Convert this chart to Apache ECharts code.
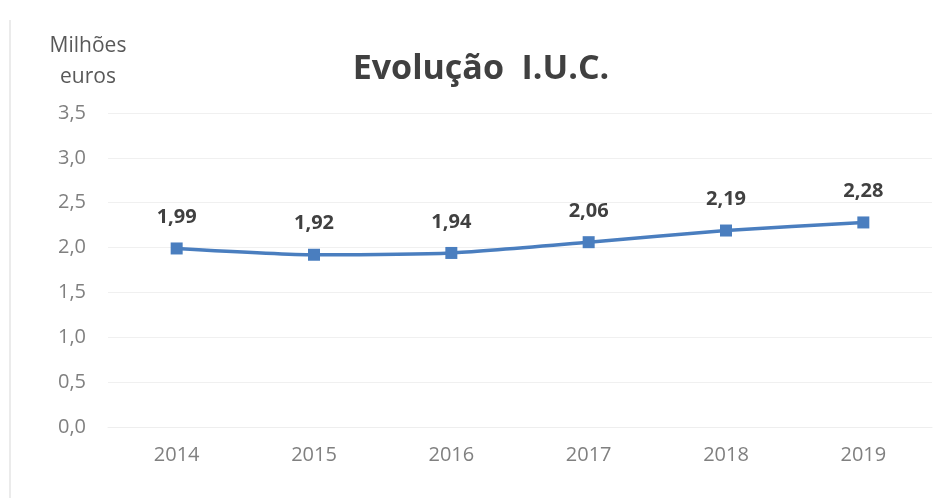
<!DOCTYPE html>
<html>
<head>
<meta charset="utf-8">
<script src="https://cdn.jsdelivr.net/npm/echarts@6/dist/echarts.min.js"></script>
<style>
html,body{margin:0;padding:0;background:#fff;}
#chart{width:934px;height:498px;}
</style>
</head>
<body>
<div id="chart"></div>
<script>
var categories = ['2014', '2015', '2016', '2017', '2018', '2019'];
var values = [1.99, 1.92, 1.94, 2.06, 2.19, 2.28];
var yTicks = { min: 0, max: 3.5, interval: 0.5 };
var titleText = 'Evolução  I.U.C.';
var unitText = 'Milhões\neuros';

function comma(v, d) { return v.toFixed(d).replace('.', ','); }

var chart = echarts.init(document.getElementById('chart'));
chart.setOption({
  backgroundColor: '#ffffff',
  animation: false,
  title: {
    text: titleText,
    left: 476, top: 47, textAlign: 'center',
    textStyle: { fontFamily: 'Open Sans', fontWeight: 'bold', fontSize: 34, color: '#404040' }
  },
  graphic: [
    { type: 'line', shape: { x1: 10, y1: 20, x2: 10, y2: 498 }, style: { stroke: '#e4e4e4', lineWidth: 1.5 } },
    { type: 'text', x: 88, y: 31, style: { text: unitText, fontFamily: 'Open Sans', fontSize: 21, fill: '#595959', align: 'center', lineHeight: 31 } }
  ],
  grid: { left: 108, right: 2, top: 113, bottom: 71 },
  xAxis: {
    type: 'category', data: categories, boundaryGap: true,
    axisLine: { show: true, lineStyle: { color: '#eeeeee' } },
    axisTick: { show: false },
    axisLabel: { color: '#808080', fontSize: 20, fontFamily: 'Open Sans', margin: 18 }
  },
  yAxis: {
    type: 'value', min: yTicks.min, max: yTicks.max, interval: yTicks.interval,
    axisLine: { show: false }, axisTick: { show: false },
    splitLine: { lineStyle: { color: '#f0f0f0' } },
    axisLabel: { color: '#808080', fontSize: 20, fontFamily: 'Open Sans', margin: 22, formatter: function (v) { return comma(v, 1); } }
  },
  series: [{
    type: 'line', data: values, smooth: 0.2,
    symbol: 'rect', symbolSize: 12,
    lineStyle: { color: '#4a7ebf', width: 3.5 },
    itemStyle: { color: '#4a7ebf' },
    label: {
      show: true, position: 'top', distance: 15,
      fontFamily: 'Open Sans', fontWeight: 'bold', fontSize: 20, color: '#404040',
      formatter: function (p) { return comma(p.value, 2); }
    }
  }]
});
</script>
</body>
</html>
